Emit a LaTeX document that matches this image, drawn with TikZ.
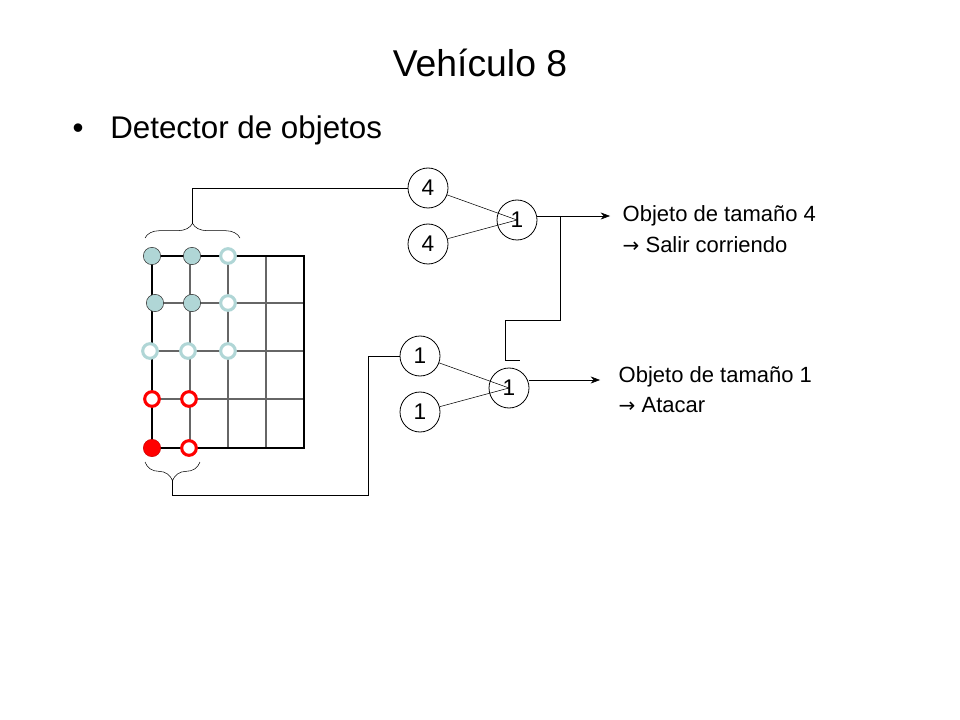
\documentclass[tikz,border=0pt]{standalone}
\usepackage{fontspec}
\setmainfont{Liberation Sans}
\usetikzlibrary{decorations.pathreplacing,arrows.meta}
\definecolor{lblue}{RGB}{176,214,214}
\tikzset{
    neuron/.style={circle, draw, semithick, minimum size=30pt, inner sep=0pt, font=\fontsize{17}{20}\selectfont},
    full/.style={circle, draw=black!80, fill=lblue, minimum size=13pt, inner sep=0pt},
    hollow/.style={circle, draw=lblue, line width=2.3pt, fill=white, minimum size=11pt, inner sep=0pt},
    redring/.style={circle, draw=red, line width=2.3pt, fill=white, minimum size=11pt, inner sep=0pt},
    redfull/.style={circle, draw=red!80!black, fill=red, minimum size=13pt, inner sep=0pt},
    label text/.style={font=\fontsize{16.5}{20}\selectfont, anchor=west}
}
\newcommand{\wdarrow}{{\fontspec{DejaVu Sans}\fontsize{15}{18}\selectfont →}}
\begin{document}
\begin{tikzpicture}[x=0.75pt, y=-0.75pt]
  \useasboundingbox (0,0) rectangle (960,720);
  \node (title) [font=\fontsize{28}{33}\selectfont] at (480,63) {Vehículo 8};
  \node (bullet) [font=\fontsize{23.5}{28}\selectfont, anchor=west] at (68,130) {\textbullet\hspace{0.85em}Detector de objetos};

  % grid
  \foreach \x in {190,228,266} \draw[black!60, thick] (\x,256) -- (\x,448);
  \foreach \y in {303,351,399} \draw[black!60, thick] (152,\y) -- (304,\y);
  \draw[line width=2.2pt] (152,256) rectangle (304,448);

  % sensors
  \node (s11) [full] at (152,256) {};
  \node (s12) [full] at (192,256) {};
  \node (s13) [hollow] at (228,256) {};
  \node (s21) [full] at (155,303) {};
  \node (s22) [full] at (192,303) {};
  \node (s23) [hollow] at (228,303) {};
  \node (s31) [hollow] at (150,351) {};
  \node (s32) [hollow] at (188,351) {};
  \node (s33) [hollow] at (228,351) {};
  \node (s41) [redring] at (152,399) {};
  \node (s42) [redring] at (189,399) {};
  \node (s51) [redfull] at (152,448) {};
  \node (s52) [redring] at (189,448) {};

  % braces
  \draw[decorate, decoration={brace, amplitude=11pt}] (145,238) -- (240,238)
    coordinate[pos=0.5, yshift=11pt] (bt);
  \draw[decorate, decoration={brace, amplitude=14pt, mirror}] (145,462) -- (200,462)
    coordinate[pos=0.5, yshift=-14pt] (bb);

  % neurons
  \node (a4) [neuron] at (428,188) {4};
  \node (b4) [neuron] at (428,244) {4};
  \node (big) [neuron] at (517,220) {1};
  \node (a1) [neuron] at (420,356) {1};
  \node (b1) [neuron] at (420,412) {1};
  \node (small) [neuron] at (509,388) {1};
  \coordinate (fb) at (560,216);

  \draw (bt) |- (a4);
  \draw (bb) |- (368,495) |- (a1);
  \draw (a4) -- (big.center);
  \draw (b4) -- (big.center);
  \draw (a1) -- (small.center);
  \draw (b1) -- (small.center);
  \draw[-{Stealth[length=7pt]}] (big.east |- fb) -- (610,216) coordinate (o4);
  \draw[-{Stealth[length=7pt]}] (small.east |- 0,380) -- (600,380) coordinate (o1);
  \draw (fb) |- (505,320) |- (520,360);

  \node (t4) [label text] at (618,216) {Objeto de tamaño 4};
  \node (t4b) [label text] at (618,245) {\wdarrow\ Salir corriendo};
  \node (t1) [label text] at (614,377) {Objeto de tamaño 1};
  \node (t1b) [label text] at (614,405) {\wdarrow\ Atacar};
\end{tikzpicture}
\end{document}
